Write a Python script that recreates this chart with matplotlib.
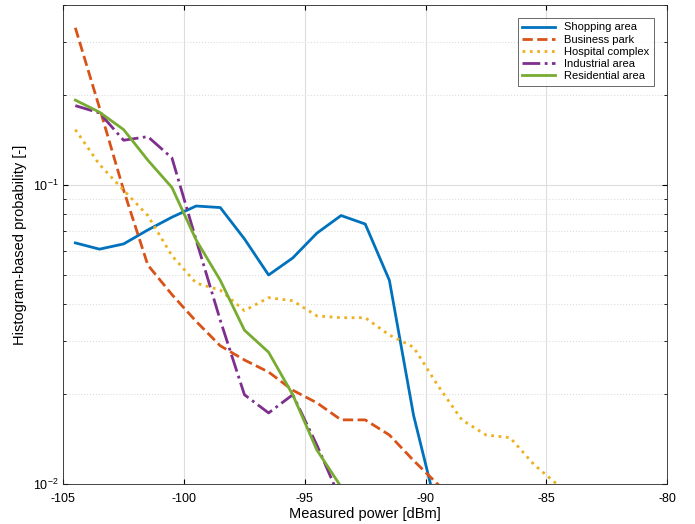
import matplotlib
matplotlib.use("Agg")
import matplotlib.pyplot as plt
import numpy as np

plt.rcParams['font.family'] = ['Liberation Sans', 'DejaVu Sans']
plt.rcParams['axes.unicode_minus'] = False

x = np.arange(-104.5, -79, 1.0)
shopping = [0.064,0.061,0.0635,0.0707,0.078,0.085,0.084,0.066,0.050,0.057,0.069,0.079,0.074,0.048,0.017,0.008]
business = [0.335,0.181,0.096,0.054,0.043,0.035,0.029,0.026,0.0237,0.0206,0.0187,0.0164,0.0164,0.0146,0.012,0.0100,0.0085]
hospital = [0.153,0.117,0.096,0.079,0.058,0.047,0.0445,0.038,0.042,0.041,0.0365,0.036,0.036,0.0315,0.0287,0.0214,0.0164,0.0146,0.0143,0.0116,0.0099]
industrial = [0.184,0.174,0.141,0.145,0.123,0.0655,0.0353,0.0199,0.0173,0.0199,0.0135,0.0088]
residential = [0.192,0.175,0.153,0.121,0.098,0.0655,0.048,0.0327,0.0276,0.0199,0.013,0.0098]

fig = plt.figure(figsize=(6.95,5.24), dpi=100)
ax = fig.add_axes([0.091, 0.076, 0.869, 0.915])
ax.plot(x[:len(shopping)], shopping, '-', color='#0072BD', lw=2, label='Shopping area')
ax.plot(x[:len(business)], business, '--', color='#D95319', lw=2, label='Business park')
ax.plot(x[:len(hospital)], hospital, ':', color='#EDB120', lw=2, label='Hospital complex')
ax.plot(x[:len(industrial)], industrial, '-.', color='#7E2F8E', lw=2, label='Industrial area')
ax.plot(x[:len(residential)], residential, '-', color='#77AC30', lw=2, label='Residential area')
ax.set_yscale('log')
ax.set_xlim(-105, -80)
ax.set_ylim(0.01, 0.4)
ax.set_xticks(np.arange(-105, -79, 5))
ax.grid(True, which='major', color='#dddddd', lw=0.8)
ax.grid(True, which='minor', color='#dddddd', lw=0.8, ls=':')
ax.tick_params(which='both', direction='in', labelsize=9, top=True, right=True)
ax.tick_params(axis='x', pad=6)
ax.set_xlabel('Measured power [dBm]', fontsize=10.5, labelpad=2)
ax.set_ylabel('Histogram-based probability [-]', fontsize=10.5)
for s in ax.spines.values():
    s.set_color('#262626'); s.set_linewidth(0.6)
leg = ax.legend(loc='upper right', fontsize=8, fancybox=False, edgecolor='#262626',
                borderaxespad=1.2, handlelength=3, labelspacing=0.2)
leg.get_frame().set_linewidth(0.6)
fig.savefig('out.png', dpi=100)
